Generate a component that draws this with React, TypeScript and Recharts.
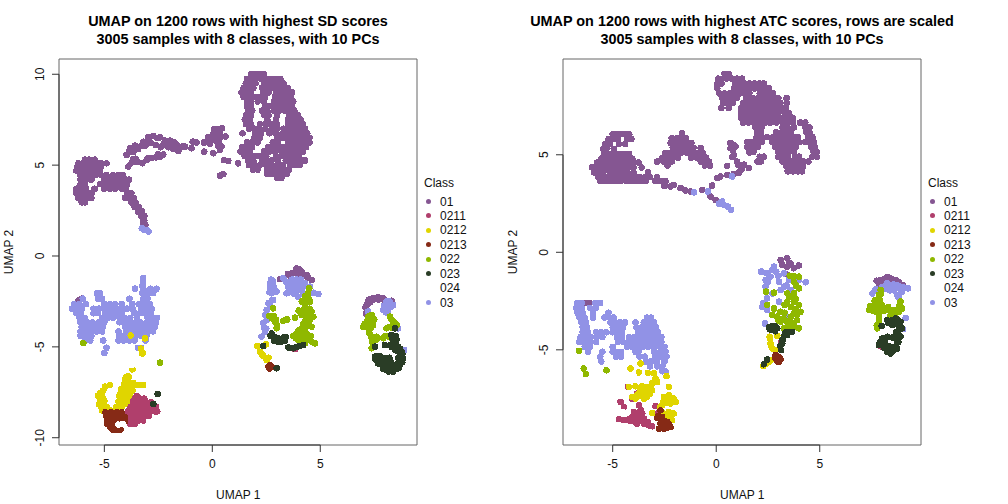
import { ScatterChart, Scatter, XAxis, YAxis, ReferenceArea, ReferenceLine } from 'recharts';

type Row = number[];
type Pt = number[];

const classNames = ['01', '0211', '0212', '0213', '022', '023', '024', '03'];
const classColors = ['#855692', '#b03f6c', '#e0d500', '#862a16', '#8fb800', '#2a3d26', '#ffffff', '#9192e6'];

// rows are [y, x, x, x ...]
const sd01Rows: Row[] = [
  [10.0, 1.8, 2.0, 2.2, 2.4],
  [9.75, 1.6, 1.8, 2.0, 2.25, 2.45, 2.7, 2.95, 3.15],
  [9.5, 1.55, 1.75, 2.0, 2.4, 2.6, 2.85, 3.1, 3.3],
  [9.25, 1.45, 1.65, 1.9, 2.3, 2.55, 2.8, 3.05, 3.25, 3.5],
  [9.0, 1.35, 1.6, 1.8, 2.35, 2.6, 2.95, 3.2, 3.45, 3.7],
  [8.75, 1.45, 1.7, 1.95, 2.2, 2.45, 2.9, 3.15, 3.4, 3.65],
  [8.5, 1.6, 1.8, 2.1, 2.4, 2.85, 3.1, 3.35, 3.6, 3.75],
  [8.25, 1.6, 1.8, 2.45, 2.7, 2.95, 3.2, 3.45, 3.7],
  [8.0, 1.65, 1.85, 2.3, 2.55, 2.85, 3.1, 3.35, 3.6, 3.8],
  [7.75, 1.55, 1.8, 2.4, 2.6, 3.0, 3.55, 3.8, 3.95],
  [7.5, 1.5, 1.75, 2.55, 2.95, 3.5, 3.7, 3.9, 4.1],
  [7.25, 1.55, 1.8, 2.2, 2.45, 2.7, 3.0, 3.5, 3.75, 4.0, 4.2],
  [7.0, 1.7, 1.95, 2.2, 2.45, 2.75, 3.0, 3.3, 3.55, 3.8, 4.05, 4.3],
  [6.75, 1.4, 2.0, 2.25, 2.65, 2.95, 3.25, 3.5, 3.75, 4.0, 4.25, 4.4],
  [6.5, 1.95, 2.2, 3.0, 3.25, 3.5, 3.75, 4.0, 4.25, 4.5],
  [6.25, 1.6, 1.85, 2.1, 2.8, 3.05, 3.5, 3.75, 4.0, 4.25, 4.5],
  [6.0, 1.4, 1.6, 1.85, 2.6, 2.85, 3.15, 3.4, 3.65, 3.9, 4.15, 4.35],
  [5.75, 1.3, 1.5, 1.75, 2.4, 2.65, 2.9, 3.2, 3.45, 3.7, 3.95, 4.2],
  [5.5, 1.5, 1.7, 2.0, 2.25, 2.5, 2.95, 3.25, 3.5, 3.75, 4.0],
  [5.25, 1.65, 1.9, 2.3, 2.55, 2.75, 3.05, 3.4, 3.7, 3.95, 4.2, 4.3],
  [5.0, 1.7, 1.95, 2.2, 2.5, 2.75, 3.0, 3.25, 3.6, 3.85, 4.05],
  [4.75, 1.9, 2.1, 2.55, 2.8, 3.05, 3.3, 3.55],
  [4.5, 2.55, 2.8, 3.0, 3.2, 3.45],
  [4.3, 3.0, 3.2],
];
const sd01Tail: Row[] = [
  [5.3, -5.9, -5.7, -5.45],
  [5.1, -6.2, -6.0, -5.8, -5.6, -5.35, -5.15, -4.9],
  [4.9, -6.25, -6.05, -5.85, -5.6, -5.4, -5.15],
  [4.7, -6.3, -6.05, -5.85, -5.65, -5.45, -5.2],
  [4.45, -6.1, -5.9, -5.65, -5.4, -5.15, -4.9, -4.6, -4.35, -4.15],
  [4.2, -6.1, -5.85, -5.6, -5.0, -4.75, -4.5, -4.25, -4.0, -3.85],
  [3.95, -6.1, -5.9, -5.2, -4.9, -4.65, -4.45, -4.2, -3.95],
  [3.7, -6.3, -6.1, -5.85, -5.45, -5.0, -4.75, -4.5, -4.2, -4.0],
  [3.45, -6.3, -6.05, -5.8, -5.6, -3.95, -3.75],
  [3.2, -6.2, -6.0, -5.75, -5.6, -4.05, -3.85, -3.65],
  [2.95, -6.05, -5.9, -3.75, -3.55],
  [2.7, -3.6, -3.4],
  [2.45, -3.45, -3.25],
  [2.2, -3.3, -3.15],
  [1.95, -3.2, -3.15],
  [1.7, -3.2, -3.1],
];
const sd01Arc: Pt[] = [
  [-3.89, 4.92], [-3.73, 5.14], [-3.66, 5.32], [-3.47, 5.19], [-3.24, 5.1], [-3.04, 5.28], [-2.81, 5.38], [-2.61, 5.43],
  [-2.39, 5.47], [-2.27, 5.58], [-3.97, 5.56], [-3.81, 5.93], [-3.58, 6.07], [-3.43, 5.89], [-3.66, 5.71], [-3.19, 6.29],
  [-2.96, 6.53], [-2.73, 6.61], [-2.42, 6.53], [-3.09, 6.07], [-2.85, 6.24], [-2.62, 6.11], [-2.39, 5.98], [-2.19, 6.11],
  [-1.96, 6.35], [-2.04, 5.98], [-1.81, 5.89], [-1.57, 5.78], [-1.39, 6.02], [-1.65, 6.11], [-1.27, 6.02], [-0.91, 6.29],
  [-0.73, 6.24], [-0.96, 5.93], [-0.37, 5.74], [-0.39, 6.24], [-0.19, 6.53], [0.08, 6.97], [0.28, 6.97], [0.46, 7.03],
  [-0.11, 6.17], [0.05, 6.72], [0.23, 6.57], [0.43, 6.57], [0.62, 6.57], [0.28, 6.06], [0.43, 6.02], [0.05, 5.65],
  [0.35, 5.83], [0.54, 5.28], [0.74, 5.23], [0.35, 4.42], [0.51, 4.5], [1.2, 5.1], [-2.2, 6.35], [-1.8, 6.2],
  [-3.0, 6.35], [-2.55, 6.5], [-2.25, 6.2], [-3.3, 6.05], [-3.55, 5.35], [-2.95, 5.4], [-2.5, 5.6], [-3.85, 5.75], [-1.75, 6.25],
  [0.15, 6.8], [0.35, 6.75], [-0.05, 6.4], [0.15, 6.35], [0.3, 6.35], [-0.25, 6.3],
];
const sd01Mid: Pt[] = [
  [3.9, -0.68], [3.67, -0.95], [4.14, -0.86], [4.37, -1.05], [4.6, -1.32], [3.13, -1.28], [3.78, -1.41], [3.5, -0.98],
  [3.9, -0.95], [4.14, -1.15], [4.45, -1.2], [4.0, -0.72], [3.6, -1.1],
  [7.15, -2.7], [7.22, -2.51], [7.45, -2.33], [7.68, -2.28], [7.92, -2.33], [8.3, -2.46], [7.11, -3.16], [7.55, -2.3], [7.35, -2.42],
  [7.25, -2.4], [7.1, -2.85], [7.3, -2.55], [7.45, -2.4], [7.7, -2.4], [7.95, -2.4],
  [-6.05, -2.35], [-6.2, -2.45],
];
const sd0211Rows: Row[] = [
  [-7.7, -3.5],
  [-7.85, -3.6, -3.35, -3.15],
  [-7.95, -3.45, -3.25],
  [-8.05, -3.75, -3.5, -3.25, -3.05, -2.85],
  [-8.2, -3.7, -3.4],
  [-8.3, -3.8, -3.55, -3.3, -3.05, -2.85, -2.6],
  [-8.4, -3.2, -2.95, -2.75],
  [-8.55, -3.9, -3.65, -3.4, -3.15, -2.9, -2.65, -2.55],
  [-8.7, -3.8, -3.55, -3.3, -3.05],
  [-8.8, -3.95, -3.7, -3.45, -3.15, -2.95],
  [-9.0, -3.75, -3.5, -3.3],
  [-9.05, -3.9, -3.65, -3.4, -3.2],
  [-9.15, -3.7],
  [-9.25, -3.8, -3.6],
  [-5.05, 3.55],
  [-5.13, 3.83],
];
const sd0212Rows: Row[] = [
  [-6.24, -3.69],
  [-6.64, -3.97, -3.87],
  [-6.8, -4.05],
  [-6.9, -4.05, -3.9],
  [-7.0, -4.0, -3.65],
  [-7.1, -4.1, -3.85, -3.55, -3.2, -4.74, -3.4],
  [-7.19, -4.97],
  [-7.3, -4.2, -4.0, -3.8],
  [-7.4, -5.05, -4.15, -3.95, -3.7],
  [-7.55, -5.2, -4.25, -4.0, -3.8],
  [-7.7, -5.3, -5.1, -4.3, -4.1, -3.85],
  [-7.85, -5.05, -4.2],
  [-8.0, -5.2, -5.0, -4.35, -4.15, -3.95],
  [-8.15, -5.25, -4.05, -4.25],
  [-8.3, -5.15, -4.9, -4.45, -4.2],
  [-8.45, -5.05, -4.4, -4.85],
  [-8.5, -5.1, -4.7, -4.5],
  [-4.38, -3.78],
  [-4.53, -3.12],
  [-5.1, -3.3],
  [-5.36, -3.22, -3.25],
  [-4.95, 2.08],
  [-5.27, 2.21],
  [-5.4, 2.3],
  [-5.5, 2.36],
  [-5.72, 2.52],
  [-5.6, 2.6],
  [-4.86, 2.49],
];
const sd0213Rows: Row[] = [
  [-8.6, -4.95, -4.7, -4.4, -4.2],
  [-8.75, -4.8, -4.55, -4.3],
  [-8.85, -4.9, -4.65, -4.45, -4.2, -4.05],
  [-9.0, -4.75, -4.5, -4.3],
  [-9.1, -4.85, -4.6, -4.4, -4.15, -4.05],
  [-9.25, -4.6, -4.85],
  [-9.35, -4.75, -4.5],
  [-9.45, -4.7],
  [-9.55, -4.6, -4.35, -4.25, -4.45],
  [-6.0, 2.67],
  [-6.09, 2.6, 2.75],
  [-6.2, 2.65],
];
const sd022: Pt[] = [
  [2.82, -2.88], [2.75, -3.43], [2.9, -3.61], [2.98, -3.98], [3.29, -3.56], [3.47, -3.49], [3.83, -3.39], [4.49, -1.78],
  [4.44, -2.05], [4.37, -2.42], [4.14, -2.51], [4.52, -2.51], [4.21, -2.97], [4.6, -3.06], [4.14, -3.25], [4.44, -3.34],
  [4.68, -3.34], [4.29, -3.61], [4.14, -3.98], [4.6, -3.89], [3.9, -4.26], [3.75, -4.4], [4.06, -4.35], [4.37, -4.26],
  [4.14, -4.62], [4.44, -4.62], [4.75, -4.81], [4.29, -4.81], [4.29, -3.3], [4.0, -3.0], [4.3, -2.7], [4.45, -3.7],
  [4.2, -4.3], [3.95, -4.6],
  [4.3, -2.2], [4.45, -2.3], [4.35, -3.0], [4.5, -2.9], [4.35, -3.5], [4.5, -3.55], [4.2, -3.75], [4.35, -3.85], [4.0, -4.1],
  [4.15, -4.15], [4.3, -4.0], [4.0, -4.5], [4.3, -4.5], [4.55, -4.4], [4.6, -4.7], [3.85, -4.5], [4.1, -4.8], [2.65, -3.3],
  [2.85, -3.3], [3.0, -3.8], [2.95, -3.5],
  [7.22, -3.34], [7.38, -3.25], [7.15, -3.61], [6.99, -3.89], [7.3, -3.8], [7.45, -3.8], [8.23, -3.34], [8.38, -3.61],
  [8.53, -3.8], [8.07, -3.98], [8.3, -3.93], [7.27, -4.22], [7.38, -4.53], [7.61, -4.44], [7.45, -4.81], [7.92, -4.53],
  [8.23, -4.48], [7.38, -5.08], [7.15, -3.8], [7.3, -3.55],
  [7.2, -3.5], [7.05, -3.75], [7.4, -3.6], [7.35, -3.95], [7.2, -3.95], [7.5, -3.5], [8.3, -3.5], [8.45, -3.7], [8.45, -3.85],
  [8.2, -3.9], [7.35, -4.4], [7.5, -4.5], [7.4, -4.7], [7.6, -4.6], [8.0, -4.4], [8.15, -4.4],
  [-5.97, -4.8], [-2.42, -5.87],
];
const sd023: Pt[] = [
  [2.75, -4.26], [2.9, -4.48], [3.06, -4.72], [3.29, -4.48], [3.36, -4.66], [3.52, -5.03], [3.75, -5.08], [4.06, -4.95],
  [4.21, -4.9], [2.98, -6.18], [2.36, -4.95], [2.7, -4.4], [2.85, -4.65], [3.0, -4.5], [3.2, -4.7], [3.4, -4.45], [3.9, -5.0], [3.65, -5.05],
  [8.46, -3.98], [8.3, -4.35], [8.53, -4.62], [8.23, -4.9], [8.61, -4.99], [8.77, -5.27], [8.46, -5.17], [7.53, -4.99],
  [7.53, -5.54], [7.76, -5.63], [8.07, -5.63], [7.68, -5.91], [7.92, -6.0], [8.23, -6.09], [8.46, -6.18], [8.69, -6.0],
  [8.84, -5.63], [8.38, -6.37], [8.07, -6.28], [8.61, -5.63], [7.99, -4.9], [8.15, -6.35], [8.6, -5.9], [8.8, -5.4],
  [8.4, -4.7], [7.7, -5.5], [8.3, -6.2], [8.5, -6.0], [7.85, -5.8], [8.0, -5.95],
  [8.5, -4.4], [8.35, -4.55], [8.5, -4.9], [8.3, -5.0], [8.7, -5.1], [8.35, -5.0], [8.6, -5.25], [7.6, -5.7], [7.75, -5.5],
  [7.9, -5.6], [8.2, -5.6], [8.25, -5.8], [7.55, -5.7], [8.0, -6.1], [8.2, -6.3], [8.35, -6.05], [8.55, -6.2], [8.65, -6.15],
  [8.8, -5.85], [8.75, -5.55], [7.8, -5.95], [7.9, -6.2],
  [-2.53, -7.6], [-2.73, -8.15],
];
const sd03Rows: Row[] = [
  [-1.2, -3.2],
  [-1.35, -3.2],
  [-1.5, -3.2],
  [-1.65, -3.25],
  [-1.8, -3.2, -3.58, -2.58, -2.85],
  [-1.9, -2.95, -2.7],
  [-2.05, -3.25, -3.0, -2.75, -5.35, -5.2],
  [-2.35, -6.0, -5.3, -5.1, -3.84, -3.2, -3.0],
  [-2.65, -6.4, -6.15, -5.85, -5.0, -4.75, -4.5, -4.2, -3.7, -3.4, -3.1, -2.9],
  [-2.9, -6.5, -6.25, -6.05, -5.5, -5.25, -5.0, -4.75, -4.5, -4.25, -3.95, -3.7, -3.3, -3.05, -2.8],
  [-3.15, -6.3, -6.1, -5.5, -5.3, -4.95, -4.7, -4.45, -4.2, -3.6, -3.35, -3.1, -2.85],
  [-3.4, -6.15, -5.9, -5.1, -4.85, -4.6, -4.3, -4.05, -3.8, -3.5, -3.0, -2.75, -2.55],
  [-3.65, -6.1, -5.8, -5.55, -5.25, -5.0, -4.3, -4.05, -3.8, -3.55, -3.35, -3.05, -2.8, -2.6],
  [-3.9, -6.05, -5.8, -5.55, -5.3, -5.05, -4.05, -3.8, -3.55, -3.3, -3.1, -2.85, -2.65],
  [-4.15, -6.1, -5.85, -5.6, -5.35, -5.1, -4.35, -4.0, -3.75, -3.5, -3.2, -2.95, -2.75],
  [-4.4, -6.1, -5.85, -5.6, -4.3, -4.05, -3.8, -3.55, -3.3, -3.05],
  [-4.65, -5.9, -5.65, -5.05, -4.35, -4.1, -3.85, -3.6, -3.1],
  [-5.05, -4.9, -3.45, -3.3],
  [-5.35, -5.0],
];
const sd03Small: Pt[] = [
  [-3.27, 1.52], [-3.04, 1.43], [-2.96, 1.34], [-3.15, 1.45],
  [2.82, -1.41], [2.67, -1.78], [2.98, -1.96], [2.75, -2.05], [3.29, -1.23], [3.6, -1.5], [3.75, -1.78], [4.06, -1.5],
  [4.29, -1.5], [4.52, -1.69], [3.44, -2.05], [3.9, -1.96], [4.14, -1.87], [4.91, -2.09], [4.68, -2.02], [2.82, -2.42],
  [2.67, -2.7], [2.52, -2.97], [2.52, -3.52], [2.36, -3.7], [2.44, -4.17], [2.28, -4.44], [2.67, -1.5], [3.6, -1.87],
  [3.83, -1.6], [3.98, -2.24],
  [2.72, -1.3], [2.85, -1.7], [2.65, -2.0], [3.4, -1.4], [3.5, -1.7], [3.7, -1.3], [3.9, -1.3], [4.2, -1.7], [3.9, -1.65],
  [4.05, -1.8], [3.55, -2.0], [3.8, -2.1], [4.2, -2.1], [4.1, -1.3], [2.6, -2.6], [2.75, -2.45], [2.45, -3.25], [2.6, -3.3],
  [2.4, -3.95], [2.5, -4.0],
  [8.07, -2.51], [8.3, -2.79], [7.92, -2.97], [8.15, -2.97], [7.22, -3.06], [8.38, -2.7], [8.61, -3.98], [8.89, -5.17],
  [7.95, -2.75], [8.1, -2.75], [8.2, -2.5], [8.05, -3.1],
];
const sd024: Pt[] = [[-4.35, -9.28], [-4.15, -9.25], [-3.6, -5.9], [-3.75, -6.0], [-3.55, -6.55]];

const atc01Rows: Row[] = [
  [9.15, 0.4, 0.6],
  [8.9, 0.1, 0.3, 0.5, 0.75, 1.0, 1.25],
  [8.65, 0.05, 0.25, 0.9, 1.1, 1.35, 1.6, 1.85, 2.1, 2.3],
  [8.4, 0.05, 0.85, 1.1, 1.35, 1.6, 1.85, 2.1, 2.35, 2.55],
  [8.15, 0.15, 0.4, 0.65, 0.9, 1.15, 1.4, 1.6, 2.1, 2.3, 2.5, 2.75],
  [7.9, 0.3, 0.55, 0.8, 1.0, 1.45, 1.75, 2.0, 2.25, 2.5, 2.75, 3.0, 3.4],
  [7.65, 0.35, 0.55, 0.8, 1.3, 1.55, 1.85, 2.1, 2.35, 2.6, 2.85, 3.1, 3.4],
  [7.4, 0.25, 0.6, 1.2, 1.45, 1.75, 2.0, 2.3, 2.55, 2.85, 3.1, 3.35],
  [7.15, 1.2, 1.4, 1.7, 1.95, 2.2, 2.5, 2.75, 3.0, 3.3, 3.5],
  [6.9, 1.2, 1.45, 1.75, 2.0, 2.3, 2.55, 2.8, 3.05, 3.3, 3.5, 3.7],
  [6.65, 1.3, 1.55, 1.8, 2.1, 2.35, 2.6, 2.9, 3.2, 3.45, 3.7, 4.05, 4.3],
  [6.4, 1.9, 2.2, 3.2, 3.45, 3.75, 4.3, 4.5],
  [6.15, 2.0, 2.15, 2.9, 3.15, 3.4, 3.6, 4.35, 4.5],
  [5.9, 1.95, 2.2, 2.45, 2.75, 3.0, 3.3, 3.5, 3.75, 3.95, 4.45, 4.65],
  [5.65, 1.5, 1.7, 1.95, 2.2, 2.7, 3.0, 3.25, 3.5, 3.75, 4.0, 4.3, 4.5, 4.7],
  [5.4, 1.5, 1.75, 2.0, 2.85, 3.1, 3.35, 3.6, 3.85, 4.6, 4.75],
  [5.15, 1.6, 1.8, 3.0, 3.25, 3.5, 3.75, 4.7, 4.85],
  [4.9, 2.1, 2.3, 3.0, 3.2, 3.45, 3.8, 4.0, 4.65, 4.85],
  [4.65, 2.0, 2.15, 3.2, 3.4, 3.7, 3.95, 4.2, 4.45],
  [4.4, 3.4, 3.6, 3.85, 4.05, 4.2],
  [4.15, 3.45, 3.7, 3.95, 4.15],
];
const atc01Lobes: Row[] = [
  [6.05, -5.0, -4.8, -4.6, -4.4, -4.2],
  [5.8, -5.2, -5.0, -4.75, -4.3, -4.1],
  [5.55, -5.35, -5.15, -4.7, -4.4],
  [5.3, -5.45, -5.3, -4.95],
  [5.05, -5.4, -5.2, -4.9, -4.7, -4.45, -4.2],
  [4.8, -5.55, -5.3, -5.05, -4.8, -4.55, -4.3, -4.05],
  [4.6, -5.75, -5.5, -5.25, -5.0, -4.75, -4.5, -4.25, -4.0, -3.75],
  [4.35, -6.0, -5.75, -5.5, -5.25, -5.0, -4.75, -4.5, -4.25, -4.0, -3.6],
  [4.1, -5.9, -5.7, -5.45, -5.1, -4.85, -4.6, -4.3, -4.0, -3.3],
  [3.85, -5.7, -5.45, -5.2, -4.95, -4.7, -4.45, -4.2, -3.95, -3.7, -3.45, -3.2, -2.85],
  [3.65, -5.6, -5.35, -5.1, -4.85, -4.6, -4.35, -4.1, -3.85, -3.6, -3.4, -2.95, -2.7, -2.45],
  [6.1, -1.65],
  [5.85, -2.15, -1.9, -1.65, -1.45],
  [5.6, -2.2, -1.95, -1.65, -1.4, -1.2],
  [5.35, -2.1, -1.85, -1.6, -1.35, -1.1, -0.75],
  [5.1, -2.45, -2.25, -2.0, -1.7, -1.4, -1.15, -0.9, -0.65],
  [4.85, -2.6, -2.35, -2.1, -1.85, -1.2, -0.95, -0.7, -0.5],
  [4.65, -2.85, -2.55, -2.35, -2.15, -0.75, -0.55, -0.35],
  [4.45, -2.35, -0.55, -0.3],
];
const atc01Small: Pt[] = [
  [-2.05, 3.45], [-2.2, 3.37], [-2.5, 3.4], [-1.72, 3.29], [-1.48, 3.17], [-1.24, 3.12], [-0.68, 3.2], [-0.27, 2.86], [-0.03, 2.69],
  [0.69, 5.6], [0.93, 5.43], [0.69, 5.33], [0.85, 5.0], [0.77, 4.9], [1.0, 4.65], [1.18, 4.4], [1.34, 4.49], [1.58, 4.32],
  [1.18, 4.23], [1.6, 5.12], [0.53, 4.43], [1.1, 4.09], [0.85, 4.02], [0.53, 3.97], [0.2, 3.89], [0.05, 3.8], [-0.2, 3.42],
  [0.85, 5.5], [0.8, 5.2], [1.05, 4.5], [1.25, 4.3],
  [3.43, -0.31], [3.11, -0.39], [3.59, -0.57], [3.19, -0.65], [3.43, -0.74], [3.99, -0.68], [3.75, -0.82], [3.4, -1.13], [3.51, -0.65],
  [8.26, -1.28], [7.94, -1.42], [7.75, -1.46], [8.5, -1.39], [7.86, -1.68], [8.82, -1.54], [9.02, -1.68], [8.1, -1.59],
  [7.95, -1.55], [8.1, -1.4], [8.35, -1.3], [8.6, -1.5], [8.7, -1.45],
  [-6.3, -2.6], [-6.1, -2.6],
];
const atc0211: Pt[] = [
  [-3.82, -7.24], [-4.06, -7.5], [-3.74, -7.84], [-4.46, -7.93], [-4.62, -7.67], [-2.93, -7.89], [-3.82, -8.27], [-3.57, -8.27],
  [-4.06, -8.44], [-3.74, -8.53], [-3.49, -8.53], [-4.7, -8.56], [-4.46, -8.61], [-4.14, -8.65], [-3.82, -8.78], [-3.49, -8.78],
  [-3.25, -8.87], [-3.09, -8.92], [-3.98, -8.19], [-2.85, -8.27], [-4.27, -6.9], [-3.65, -8.1], [-3.9, -8.7], [-3.6, -8.4], [-4.3, -8.6],
  [-3.7, -8.35], [-3.85, -8.45], [-3.6, -8.6], [-3.95, -8.55], [-4.2, -8.55], [-3.3, -8.7], [-3.45, -8.65], [-3.9, -8.3], [-3.6, -8.65],
  [3.14, -4.59], [7.94, -4.82],
];
const atc0212: Pt[] = [
  [-3.9, -6.87], [-3.57, -6.87], [-3.3, -6.9], [-3.33, -7.16], [-3.09, -7.07], [-3.33, -7.41], [-4.06, -7.41], [-3.9, -7.5],
  [-3.49, -7.5], [-4.22, -6.9], [-2.53, -7.41], [-2.29, -7.33], [-2.05, -7.5], [-1.96, -7.67], [-2.21, -7.76], [-2.61, -7.84],
  [-2.69, -8.1], [-3.09, -8.24], [-2.53, -8.27], [-2.29, -8.19], [-2.05, -8.27], [-2.13, -8.61], [-2.37, -8.53],
  [-4.14, -5.96], [-3.66, -5.7], [-3.74, -6.16], [-3.3, -6.18], [-3.0, -6.2], [-2.93, -6.47], [-2.85, -6.65], [-3.1, -6.73],
  [-2.4, -6.35], [-2.29, -6.9], [-3.7, -6.95], [-3.5, -7.1], [-3.2, -7.25], [-2.35, -7.55], [-2.55, -7.65], [-3.65, -7.35],
  [-3.5, -7.3], [-3.3, -7.3], [-3.75, -7.25], [-3.85, -7.35], [-2.4, -7.7], [-2.2, -7.5], [-2.7, -7.95], [-2.45, -8.4], [-2.2, -8.4], [-2.3, -8.3],
  [2.58, -4.33], [2.95, -4.28], [2.62, -4.67], [2.71, -4.93], [2.87, -5.02], [2.62, -5.53], [2.46, -5.67], [2.27, -5.84],
  [2.6, -4.45], [2.65, -4.8], [2.5, -5.5], [2.35, -5.75], [2.55, -5.6],
];
const atc0213: Pt[] = [
  [-2.69, -8.1], [-2.85, -8.48], [-2.61, -8.44], [-2.69, -8.78], [-2.37, -8.7], [-2.53, -9.04], [-2.29, -8.96], [-2.77, -9.04],
  [-2.21, -8.96], [-2.5, -8.8], [-2.4, -9.0], [-2.65, -8.6], [-2.5, -8.65], [-2.8, -8.4], [-2.4, -8.85], [-2.3, -8.8], [-2.65, -8.95],
  [2.87, -5.27], [2.95, -5.5], [3.03, -5.62], [3.1, -5.5], [2.85, -5.4], [3.05, -5.4], [2.95, -5.6],
];
const atc022: Pt[] = [
  [3.75, -1.22], [3.99, -1.25], [3.75, -1.51], [3.99, -1.85], [3.43, -2.11], [3.75, -2.11], [2.4, -2.02], [2.46, -2.7],
  [2.79, -2.88], [3.11, -3.05], [3.43, -2.53], [3.75, -2.53], [3.99, -2.71], [3.11, -3.56], [3.43, -3.56], [3.75, -3.13],
  [4.07, -3.05], [2.71, -3.22], [2.95, -3.3], [3.91, -3.48], [3.75, -3.73], [3.99, -3.9], [3.27, -3.9], [3.59, -4.0],
  [2.79, -2.07], [3.3, -2.7], [3.6, -2.8], [3.85, -2.9], [3.3, -3.1], [3.6, -3.3], [3.25, -3.4], [3.6, -3.6], [3.9, -3.2],
  [3.0, -3.5], [3.45, -3.85], [3.7, -3.9], [3.85, -2.4], [3.55, -2.3], [3.55, -1.2], [3.85, -1.7],
  [7.94, -1.93], [7.86, -2.19], [7.7, -2.45], [7.62, -2.71], [7.38, -2.96], [7.7, -3.05], [8.02, -2.71], [8.26, -2.96],
  [8.58, -2.96], [8.9, -2.53], [8.98, -2.88], [8.82, -3.05], [7.86, -3.39], [7.78, -3.9], [8.42, -3.22], [7.9, -2.45],
  [7.5, -2.85], [8.4, -3.0], [8.75, -2.95], [7.8, -2.95], [7.85, -3.15], [8.1, -3.0],
  [7.95, -2.15], [7.8, -2.45], [7.65, -2.5], [8.15, -2.85], [8.3, -2.8], [8.5, -3.1], [8.7, -3.1], [8.85, -2.75], [7.6, -3.0],
  [7.45, -2.75], [7.75, -2.75], [7.85, -3.6], [7.75, -3.75], [8.65, -3.15],
  [-6.63, -5.05], [-6.4, -5.96], [-6.3, -6.25], [-5.3, -6.05],
];
const atc023: Pt[] = [
  [2.54, -3.85], [2.75, -3.99], [2.95, -3.9], [2.71, -3.78], [3.67, -4.08], [3.43, -4.25], [3.27, -4.3], [3.14, -5.02],
  [3.19, -4.67], [2.46, -5.5], [2.3, -5.74], [2.85, -4.05], [2.6, -3.95], [2.85, -3.8], [2.8, -3.9], [3.5, -4.1], [3.35, -4.1], [3.2, -4.5], [3.1, -4.8],
  [8.26, -3.48], [8.66, -3.39], [8.9, -3.56], [8.5, -3.73], [8.82, -3.99], [8.9, -4.33], [8.74, -4.59], [8.02, -4.42],
  [8.26, -4.33], [8.5, -4.37], [7.94, -4.59], [8.18, -4.93], [8.58, -4.85], [8.42, -5.19], [8.74, -4.93], [7.99, -3.78],
  [8.26, -5.1], [8.98, -3.9], [8.6, -3.5], [8.8, -4.2], [8.3, -4.8], [8.55, -5.05], [8.05, -4.75],
  [8.3, -3.6], [8.45, -3.5], [8.75, -3.45], [8.75, -3.7], [8.9, -3.8], [8.7, -4.1], [8.7, -4.3], [8.15, -4.55], [8.0, -4.75],
  [8.1, -4.9], [8.3, -4.95], [8.4, -4.95], [7.85, -4.75], [8.8, -4.6],
];
const atc03Rows: Row[] = [
  [-2.6, -6.7, -6.5, -5.85, -5.6],
  [-2.85, -6.75, -6.5, -6.1, -5.8],
  [-3.1, -6.7, -6.45, -5.95, -5.2],
  [-3.35, -6.6, -6.35, -5.95, -5.4, -5.15, -4.95, -3.35, -3.15],
  [-3.6, -6.5, -6.3, -5.1, -4.9, -4.65, -4.4, -3.9, -3.5, -3.25, -3.0],
  [-3.85, -6.45, -6.25, -5.0, -4.8, -4.5, -3.85, -3.6, -3.35, -3.1, -2.9],
  [-4.1, -6.45, -6.2, -5.8, -5.55, -5.3, -5.0, -4.75, -4.55, -3.75, -3.5, -3.25, -3.0, -2.8],
  [-4.35, -6.55, -6.3, -6.05, -5.8, -5.5, -4.8, -4.55, -4.2, -3.95, -3.7, -3.4, -3.15, -2.85, -2.65],
  [-4.6, -6.6, -6.3, -6.05, -5.8, -4.75, -4.5, -4.25, -4.0, -3.75, -3.5, -3.2, -2.9, -2.65],
  [-4.85, -6.35, -6.1, -5.0, -4.3, -4.05, -3.8, -3.55, -3.3, -3.0, -2.7, -2.5],
  [-5.1, -6.2, -5.5, -5.0, -4.85, -4.6, -3.9, -3.75, -3.0, -2.7, -2.45],
  [-5.35, -5.6, -4.85, -4.6, -3.7, -3.45, -2.95, -2.65, -2.4],
  [-5.6, -5.55, -3.4, -3.15, -2.85, -2.5],
  [-5.85, -3.2, -2.85, -2.6],
  [-6.1, -2.6, -2.45],
];
const atc03Small: Pt[] = [
  [-1.08, 3.07], [-0.4, 3.12], [0.29, 2.6], [0.13, 2.48], [0.37, 2.43], [0.56, 2.35], [0.72, 2.17], [0.21, 2.55], [0.77, 3.89],
  [2.17, -0.99], [2.46, -1.08], [2.79, -0.74], [2.62, -1.25], [2.38, -1.42], [2.38, -1.76], [2.71, -2.11], [3.27, -1.08],
  [3.03, -1.51], [3.27, -1.76], [3.51, -1.42], [3.11, -1.93], [3.59, -1.93], [4.32, -1.54], [3.99, -1.42], [2.27, -2.62],
  [2.46, -2.36], [2.22, -2.79], [2.35, -3.65], [3.43, -3.3], [3.03, -2.53], [2.46, -2.96], [2.9, -1.0], [2.7, -0.9], [3.0, -1.2],
  [2.5, -1.5], [3.4, -1.7], [2.2, -1.0],
  [7.54, -2.11], [7.7, -1.9], [8.18, -1.85], [8.5, -1.76], [8.9, -1.9], [9.26, -1.85], [8.74, -2.19], [8.26, -1.59], [9.02, -3.94],
  [9.15, -3.36], [8.35, -1.8], [8.7, -1.85], [8.95, -2.05], [8.6, -1.95], [8.75, -1.7],
  [8.0, -1.8], [8.2, -1.7], [8.4, -1.95], [8.55, -1.65], [8.85, -1.75], [9.05, -1.8], [8.8, -2.3],
];
const atc024: Pt[] = [[-4.0, -6.3], [-4.5, -8.2]];

const rowsToPts = (rows: Row[]) => rows.flatMap(([y, ...xs]) => xs.map((x) => ({ x, y })));
const toPts = (pts: Pt[]) => pts.map(([x, y]) => ({ x, y }));

const sdSeries = [
  [...rowsToPts(sd01Rows), ...rowsToPts(sd01Tail), ...toPts(sd01Arc), ...toPts(sd01Mid)],
  rowsToPts(sd0211Rows),
  rowsToPts(sd0212Rows),
  rowsToPts(sd0213Rows),
  toPts(sd022),
  toPts(sd023),
  toPts(sd024),
  [...rowsToPts(sd03Rows), ...toPts(sd03Small)],
];
const atcSeries = [
  [...rowsToPts(atc01Rows), ...rowsToPts(atc01Lobes), ...toPts(atc01Small)],
  toPts(atc0211),
  toPts(atc0212),
  toPts(atc0213),
  toPts(atc022),
  toPts(atc023),
  toPts(atc024),
  [...rowsToPts(atc03Rows), ...toPts(atc03Small)],
];
const drawOrder = [0, 7, 4, 1, 2, 3, 5, 6];

const FONT = '"Liberation Sans", Arial, sans-serif';

const Dot = (props: any) => (
  <circle cx={props.cx} cy={props.cy} r={3.3} fill={props.fill} shapeRendering="crispEdges" />
);

const XTick = ({ x, y, payload }: any) => (
  <text x={x} y={y + 14} textAnchor="middle" fontFamily={FONT} fontSize={12} fill="#111">
    {payload.value}
  </text>
);
const YTick = ({ x, y, payload }: any) => (
  <text x={x} y={y} transform={`rotate(-90 ${x} ${y})`} dx={0} dy={-6} textAnchor="middle" fontFamily={FONT} fontSize={12} fill="#111">
    {payload.value}
  </text>
);

function Panel({ left, title, series, xDomain, yDomain, xTicks, yTicks }: any) {
  return (
    <div style={{ position: 'absolute', left, top: 0, width: 504, height: 504 }}>
      <div
        style={{
          position: 'absolute', left: 0, width: 476, top: 12, textAlign: 'center', fontFamily: FONT,
          fontWeight: 'bold', fontSize: 14.4, lineHeight: '18px', color: '#000', whiteSpace: 'nowrap',
        }}
      >
        {title.map((t: string) => (
          <div key={t}>{t}</div>
        ))}
      </div>
      <ScatterChart width={504} height={504} margin={{ top: 59, right: 87, bottom: 0, left: 0 }} style={{ position: 'absolute' }}>
        <XAxis
          type="number" dataKey="x" domain={xDomain} ticks={xTicks} allowDataOverflow height={59}
          axisLine={false} tickSize={7} tickLine={{ stroke: '#333' }} tick={<XTick />} interval={0}
        />
        <YAxis
          type="number" dataKey="y" domain={yDomain} ticks={yTicks} allowDataOverflow width={59}
          axisLine={false} tickSize={7} tickLine={{ stroke: '#333' }} tick={<YTick />} interval={0}
        />
        {drawOrder.map((i) => (
          <Scatter key={classNames[i]} name={classNames[i]} data={series[i]} fill={classColors[i]} shape={<Dot />} isAnimationActive={false} />
        ))}
        <ReferenceArea x1={xDomain[0]} x2={xDomain[1]} y1={yDomain[0]} y2={yDomain[1]} fill="none" stroke="#666" strokeWidth={1} ifOverflow="visible" />
        <ReferenceLine
          segment={[{ x: xTicks[0], y: yDomain[0] }, { x: xTicks[xTicks.length - 1], y: yDomain[0] }]}
          stroke="#333" ifOverflow="visible"
        />
        <ReferenceLine
          segment={[{ x: xDomain[0], y: yTicks[0] }, { x: xDomain[0], y: yTicks[yTicks.length - 1] }]}
          stroke="#333" ifOverflow="visible"
        />
      </ScatterChart>
      <div style={{ position: 'absolute', left: 216, top: 488, fontFamily: FONT, fontSize: 12, lineHeight: '14px', color: '#111' }}>UMAP 1</div>
      <div
        style={{
          position: 'absolute', left: 9, top: 252, fontFamily: FONT, fontSize: 12, lineHeight: '14px', color: '#111',
          transform: 'translate(-50%, -50%) rotate(-90deg)', whiteSpace: 'nowrap',
        }}
      >
        UMAP 2
      </div>
      <div style={{ position: 'absolute', left: 424, top: 176, fontFamily: FONT, fontSize: 12, lineHeight: '14px', color: '#111' }}>Class</div>
      {classNames.map((name, i) => (
        <div key={name}>
          <div
            style={{
              position: 'absolute', left: 426, top: 199 + i * 14.45, width: 5, height: 5, borderRadius: '50%',
              background: classColors[i],
            }}
          />
          <div style={{ position: 'absolute', left: 440, top: 194.5 + i * 14.45, fontFamily: FONT, fontSize: 12, lineHeight: '14px', color: '#111' }}>
            {name}
          </div>
        </div>
      ))}
    </div>
  );
}

export default function App() {
  return (
    <div style={{ position: 'absolute', left: 0, top: 0, width: 1008, height: 504, background: '#fff', overflow: 'hidden' }}>
      <Panel
        left={0}
        title={['UMAP on 1200 rows with highest SD scores', '3005 samples with 8 classes, with 10 PCs']}
        series={sdSeries}
        xDomain={[-7.1, 9.48]}
        yDomain={[-10.4, 10.84]}
        xTicks={[-5, 0, 5]}
        yTicks={[-10, -5, 0, 5, 10]}
      />
      <Panel
        left={504}
        title={['UMAP on 1200 rows with highest ATC scores, rows are scaled', '3005 samples with 8 classes, with 10 PCs']}
        series={atcSeries}
        xDomain={[-7.4, 9.89]}
        yDomain={[-9.88, 9.91]}
        xTicks={[-5, 0, 5]}
        yTicks={[-5, 0, 5]}
      />
    </div>
  );
}
